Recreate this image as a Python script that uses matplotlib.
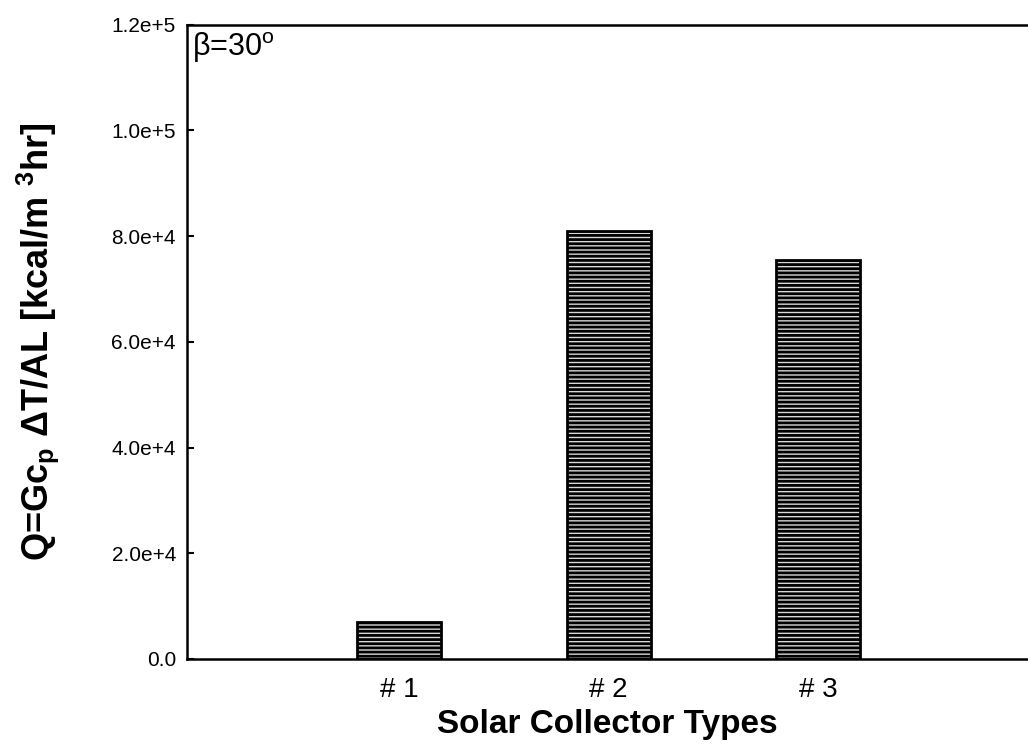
import matplotlib
matplotlib.use("Agg")
import matplotlib.pyplot as plt

plt.rcParams["font.family"] = ["Liberation Sans", "DejaVu Sans"]
plt.rcParams["mathtext.fontset"] = "custom"
plt.rcParams["mathtext.rm"] = "Liberation Sans"
plt.rcParams["mathtext.bf"] = "Liberation Sans:bold"
plt.rcParams["hatch.linewidth"] = 2.0

# data
collectors = ["# 1", "# 2", "# 3"]
positions = [1, 2, 3]
heat_gain = [7000, 81000, 75500]
y_ticks = [0, 20000, 40000, 60000, 80000, 100000, 120000]
y_tick_labels = ["0.0", "2.0e+4", "4.0e+4", "6.0e+4", "8.0e+4", "1.0e+5", "1.2e+5"]


def main():
    fig = plt.figure(figsize=(10.28, 7.48), dpi=100)
    ax = fig.add_axes([0.182, 0.119, 0.818, 0.848])

    ax.bar(positions, heat_gain, width=0.4, facecolor="#d8d8d8",
           edgecolor="black", linewidth=2, hatch="----")

    ax.set_xlim(-0.01, 4)
    ax.set_ylim(0, 120000)
    ax.set_yticks(y_ticks)
    ax.set_yticklabels(y_tick_labels, fontsize=15)
    ax.set_xticks(positions)
    ax.set_xticklabels(collectors, fontsize=20)
    ax.tick_params(axis="x", length=0, pad=13)
    ax.tick_params(axis="y", direction="in", length=5, width=1.5, pad=8)

    for s in ["left", "bottom", "top"]:
        ax.spines[s].set_linewidth(1.8)
    ax.spines["right"].set_visible(False)

    ax.set_xlabel("Solar Collector Types", fontsize=24, fontweight="bold", labelpad=4)
    ax.set_ylabel(r"Q=Gc$_{\mathbf{p}}$ ΔT/AL [kcal/m $^{\mathbf{3}}$hr]",
                  fontsize=26, fontweight="bold", labelpad=36)

    ax.text(0.006, 0.992, r"β=30$^{\mathrm{o}}$", transform=ax.transAxes,
            fontsize=22, ha="left", va="top")

    fig.savefig("out.png", dpi=100)


if __name__ == "__main__":
    main()
